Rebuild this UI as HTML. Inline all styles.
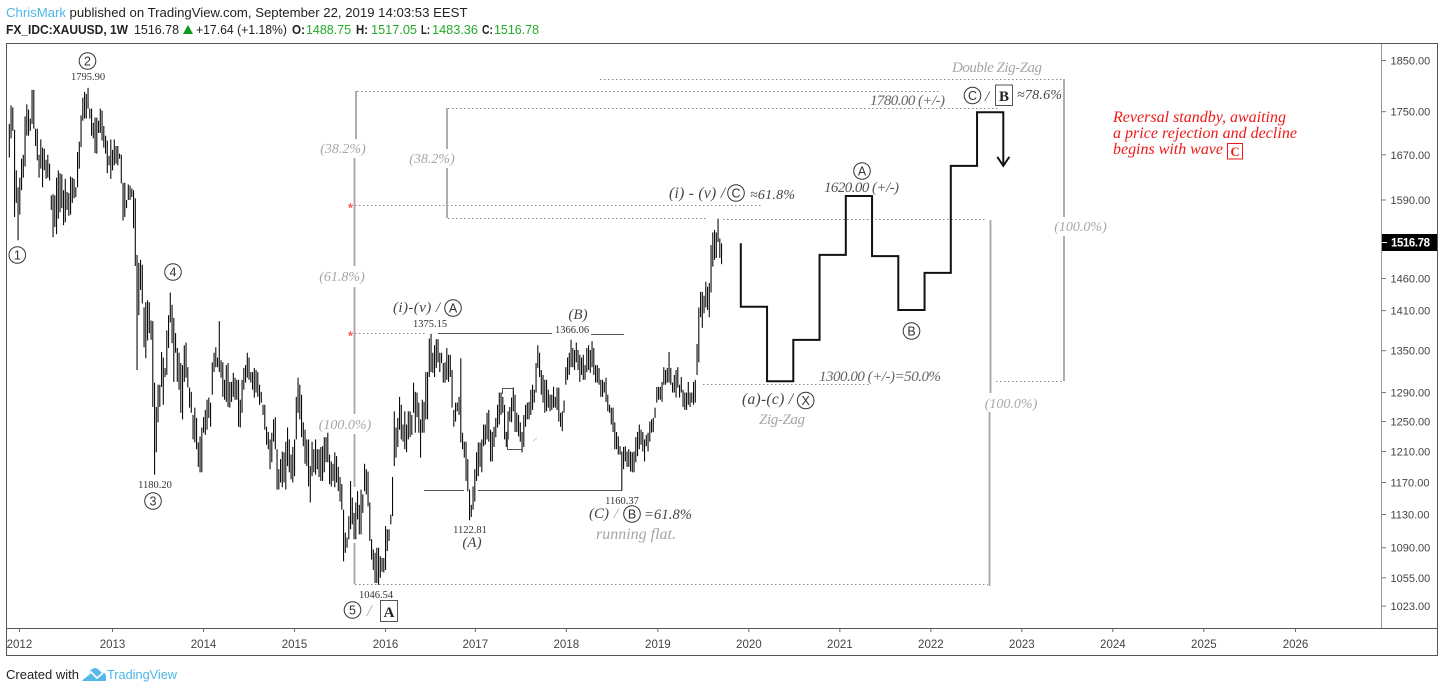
<!DOCTYPE html>
<html lang="en">
<head>
<meta charset="utf-8">
<title>XAUUSD weekly chart</title>
<style>
html,body{margin:0;padding:0;background:#fff;width:1444px;height:692px;overflow:hidden}
svg{display:block}
text{font-family:"Liberation Sans",sans-serif}
.s{font-family:"Liberation Serif",serif;font-style:italic}
.n{font-family:"Liberation Serif",serif;font-size:10.5px;fill:#333;text-anchor:middle}
.g{fill:#a6a6a6}
.d{fill:#444}
.dot{stroke:#888;stroke-width:1;stroke-dasharray:1.5 2.5;fill:none}
.gl{stroke:#a6a6a6;stroke-width:1.8;fill:none}
.c{fill:#fff;stroke:#333;stroke-width:1}
.ct{font-size:12.5px;fill:#333;text-anchor:middle}
.h{font-size:13px;fill:#222}
.b{font-weight:bold}
.gr{fill:#22ab29}
</style>
</head>
<body>
<svg id="chart" xmlns="http://www.w3.org/2000/svg" width="1444" height="692" viewBox="0 0 1444 692">
  <rect width="1444" height="692" fill="#fff"/>

  <g>
    <text class="h" x="6" y="17" style="fill:#4db6e8" textLength="60" lengthAdjust="spacingAndGlyphs">ChrisMark</text>
    <text class="h" x="69.500" y="17" textLength="398" lengthAdjust="spacingAndGlyphs">published on TradingView.com, September 22, 2019 14:03:53 EEST</text>
  </g>
  <g>
    <text class="h b" x="6" y="34" textLength="122" lengthAdjust="spacingAndGlyphs">FX_IDC:XAUUSD, 1W</text>
    <text class="h" x="134" y="34" textLength="45" lengthAdjust="spacingAndGlyphs">1516.78</text>
    <polygon points="183,34 193,34 188,25" fill="#0b9a1a"/>
    <text class="h" x="196" y="34" textLength="91" lengthAdjust="spacingAndGlyphs">+17.64 (+1.18%)</text>
    <text class="h b" x="292" y="34" textLength="13" lengthAdjust="spacingAndGlyphs">O:</text>
    <text class="h gr" x="306" y="34" textLength="45" lengthAdjust="spacingAndGlyphs">1488.75</text>
    <text class="h b" x="356" y="34" textLength="12" lengthAdjust="spacingAndGlyphs">H:</text>
    <text class="h gr" x="371" y="34" textLength="46" lengthAdjust="spacingAndGlyphs">1517.05</text>
    <text class="h b" x="421" y="34" textLength="9" lengthAdjust="spacingAndGlyphs">L:</text>
    <text class="h gr" x="432" y="34" textLength="46" lengthAdjust="spacingAndGlyphs">1483.36</text>
    <text class="h b" x="482" y="34" textLength="11" lengthAdjust="spacingAndGlyphs">C:</text>
    <text class="h gr" x="494" y="34" textLength="45" lengthAdjust="spacingAndGlyphs">1516.78</text>
  </g>

  <g>
    <line class="dot" x1="600" y1="79.500" x2="1062" y2="79.500"/>
    <line class="dot" x1="357" y1="91.500" x2="940" y2="91.500"/>
    <line class="dot" x1="448" y1="108.500" x2="1000" y2="108.500"/>
    <line class="dot" x1="355" y1="205.500" x2="762" y2="205.500"/>
    <line class="dot" x1="448" y1="218.500" x2="708" y2="218.500"/>
    <line class="dot" x1="723" y1="219.500" x2="985" y2="219.500"/>
    <line class="dot" x1="355" y1="333.500" x2="426" y2="333.500"/>
    <line class="dot" x1="703" y1="384.500" x2="870" y2="384.500"/>
    <line class="dot" x1="996" y1="381.500" x2="1063" y2="381.500"/>
    <line class="dot" x1="355" y1="584.500" x2="988" y2="584.500"/>

    <path class="gl" d="M356 91V139M354.500 158V266M354.500 287V414M354.500 434V487M354.500 543V584"/>
    <path class="gl" d="M447 108V149M447 168V218"/>
    <path class="gl" d="M1064 79V217M1064 236V381"/>
    <path class="gl" d="M990.500 220V393M989.500 412V586"/>
  </g>

  <g id="bars"></g>

  <g fill="none" stroke="#555">
    <line x1="438" y1="333.500" x2="552" y2="333.500"/>
    <line x1="591" y1="334.500" x2="624" y2="334.500"/>
    <line x1="424" y1="490.500" x2="464" y2="490.500"/>
    <line x1="478" y1="490.500" x2="622.500" y2="490.500"/>
    <path d="M502.500 394V388.500H513"/>
    <path d="M507.500 431V449.500H522"/>
    <line x1="533" y1="441" x2="537" y2="438" stroke="#ccc"/>
  </g>

  <path id="projection" fill="none" stroke="#111" stroke-width="2"/>
  <path id="projectionHead" fill="none" stroke="#111" stroke-width="2"/>

  <g>
    <g><circle class="c" cx="17.300" cy="255" r="8.300"/><text class="ct" x="17.300" y="259.500">1</text></g>
    <g><circle class="c" cx="87.500" cy="61" r="8.300"/><text class="ct" x="87.500" y="65.500">2</text></g>
    <text class="n" x="88" y="80">1795.90</text>
    <g><circle class="c" cx="173" cy="272" r="8.300"/><text class="ct" x="173" y="276.500">4</text></g>
    <text class="n" x="155" y="488">1180.20</text>
    <g><circle class="c" cx="153" cy="501" r="8.300"/><text class="ct" x="153" y="505.500">3</text></g>

    <g><circle class="c" cx="352.500" cy="610" r="8.300"/><text class="ct" x="352.500" y="614.500">5</text></g>
    <text class="s g" x="367" y="616" font-size="17">/</text>
    <rect x="380.500" y="600.500" width="17" height="21" fill="#fff" stroke="#555"/>
    <text x="389" y="617" text-anchor="middle" font-size="15" font-weight="bold" style="font-family:'Liberation Serif',serif" fill="#222">A</text>
    <text class="n" x="376" y="598">1046.54</text>

    <text class="s d" x="393" y="312" font-size="15" textLength="47">(i)-(v) /</text>
    <g><circle class="c" cx="453" cy="308" r="8.300"/><text class="ct" x="453" y="312.500">A</text></g>
    <text class="n" x="430" y="327">1375.15</text>
    <text class="s d" x="578" y="319" text-anchor="middle" font-size="15">(B)</text>
    <text class="n" x="572" y="333">1366.06</text>
    <text class="n" x="470" y="533">1122.81</text>
    <text class="s d" x="472" y="547" text-anchor="middle" font-size="15">(A)</text>
    <text class="n" x="622" y="504">1160.37</text>
    <text class="s d" x="589" y="518" font-size="15">(C)</text>
    <text class="s g" x="614" y="518" font-size="15">/</text>
    <g><circle class="c" cx="632" cy="514" r="8.300"/><text class="ct" x="632" y="518.500">B</text></g>
    <text class="s d" x="644" y="519" font-size="14.500" textLength="48">=61.8%</text>
    <text class="s g" x="596" y="539" font-size="16" textLength="80">running flat.</text>

    <text class="s d" x="669" y="198" font-size="15.500" textLength="56">(i) - (v) /</text>
    <g><circle class="c" cx="736" cy="193" r="8.300"/><text class="ct" x="736" y="197.500">C</text></g>
    <text class="s d" x="750" y="199" font-size="14" textLength="45">≈61.8%</text>

    <text class="s d" x="742" y="404" font-size="15.500" textLength="51">(a)-(c) /</text>
    <g><circle class="c" cx="805.700" cy="400.500" r="8.300"/><text class="ct" x="805.700" y="405">X</text></g>
    <text class="s g" x="759" y="424" font-size="15" textLength="46">Zig-Zag</text>
    <text class="s" fill="#666" x="819" y="381" font-size="15" textLength="122">1300.00 (+/-)=50.0%</text>
    <g><circle class="c" cx="862" cy="171" r="8.300"/><text class="ct" x="862" y="175.500">A</text></g>
    <text class="s" fill="#555" x="824" y="192" font-size="15" textLength="75">1620.00 (+/-)</text>
    <g><circle class="c" cx="911.500" cy="331" r="8.300"/><text class="ct" x="911.500" y="335.500">B</text></g>
    <text class="s" fill="#666" x="870" y="105" font-size="15" textLength="75">1780.00 (+/-)</text>
    <g><circle class="c" cx="972.500" cy="95.500" r="8.300"/><text class="ct" x="972.500" y="100">C</text></g>
    <text class="s d" x="985" y="101" font-size="15">/</text>
    <rect x="995.500" y="85" width="17" height="20.500" fill="#fff" stroke="#555"/>
    <text x="1004" y="101" text-anchor="middle" font-size="15" font-weight="bold" style="font-family:'Liberation Serif',serif" fill="#222">B</text>
    <text class="s d" x="1017" y="99" font-size="14" textLength="45">≈78.6%</text>
    <text class="s g" x="952" y="72" font-size="15" textLength="90">Double Zig-Zag</text>

    <text class="s g" x="343" y="153" text-anchor="middle" font-size="14">(38.2%)</text>
    <text class="s g" x="432" y="163" text-anchor="middle" font-size="14">(38.2%)</text>
    <text class="s g" x="342" y="281" text-anchor="middle" font-size="14">(61.8%)</text>
    <text class="s g" x="345" y="429" text-anchor="middle" font-size="14">(100.0%)</text>
    <text class="s g" x="1080.500" y="231" text-anchor="middle" font-size="14">(100.0%)</text>
    <text class="s g" x="1011" y="408" text-anchor="middle" font-size="14">(100.0%)</text>

    <text x="350.500" y="213" text-anchor="middle" font-size="15" fill="#ff3b3b">*</text>
    <text x="350.500" y="341" text-anchor="middle" font-size="15" fill="#ff3b3b">*</text>

    <text class="s" fill="#f01818" x="1113" y="122" font-size="16" textLength="173">Reversal standby, awaiting</text>
    <text class="s" fill="#f01818" x="1113" y="138" font-size="16" textLength="184">a price rejection and decline</text>
    <text class="s" fill="#f01818" x="1113" y="154" font-size="16" textLength="110">begins with wave</text>
    <rect x="1227.500" y="143.500" width="15" height="15.500" fill="#fff" stroke="#f01818"/>
    <text x="1235" y="156" text-anchor="middle" font-size="12.500" font-weight="bold" style="font-family:'Liberation Serif',serif" fill="#f01818">C</text>
  </g>

  <g id="yAxis">
    <line x1="1381.500" y1="43" x2="1381.500" y2="628" stroke="#999"/>
  </g>
  <g id="xAxis">
    <line x1="7" y1="628.500" x2="1437" y2="628.500" stroke="#555"/>
  </g>
  <rect x="6.500" y="43.500" width="1431" height="612" fill="none" stroke="#555"/>
  <g>
    <rect x="1382" y="234" width="55" height="17" fill="#000"/>
    <line x1="1382" y1="242.500" x2="1387" y2="242.500" stroke="#fff"/>
    <text x="1391" y="246.500" font-size="11.500" font-weight="bold" fill="#fff" textLength="39">1516.78</text>
  </g>

  <g>
    <text x="6" y="679" font-size="13" fill="#222" textLength="73" lengthAdjust="spacingAndGlyphs">Created with</text>
    <g>
      <path d="M82 681L91 670Q95 666 99 670L102 673Q105 672 106 676V681Z" fill="#57b9e8"/>
      <path d="M84 678L91 672L97 678L103 673" fill="none" stroke="#fff" stroke-width="1.600"/>
    </g>
    <text x="107" y="679" font-size="13" fill="#4db6e8" textLength="70" lengthAdjust="spacingAndGlyphs">TradingView</text>
  </g>
</svg>

<script>
const highs = [
1727,1762,1758,1716,1642,1612,1629,1663,1670,1741,
1764,1754,1737,1792,1792,1718,1718,1670,1698,1683,
1681,1661,1670,1654,1598,1600,1598,1629,1642,1637,
1635,1607,1627,1604,1602,1631,1629,1627,1612,1675,
1694,1743,1777,1788,1784,1796,1756,1756,1729,1739,
1739,1733,1756,1752,1723,1705,1696,1668,1698,1679,
1698,1686,1686,1672,1670,1620,1620,1590,1617,1615,
1610,1607,1593,1498,1485,1490,1482,1415,1423,1426,
1423,1395,1394,1304,1270,1301,1301,1348,1340,1325,
1380,1403,1438,1419,1399,1376,1354,1347,1332,1329,
1358,1362,1326,1297,1291,1259,1269,1255,1222,1230,
1242,1256,1266,1280,1283,1276,1333,1347,1355,1340,
1394,1336,1333,1308,1329,1332,1305,1305,1318,1311,
1308,1308,1280,1308,1325,1329,1347,1340,1319,1319,
1325,1322,1319,1301,1291,1273,1273,1243,1236,1226,
1235,1253,1256,1213,1187,1200,1210,1209,1223,1242,
1226,1206,1216,1226,1284,1311,1301,1287,1249,1239,
1226,1226,1191,1223,1213,1226,1213,1213,1216,1217,
1229,1229,1235,1206,1197,1194,1209,1204,1190,1177,
1168,1136,1108,1102,1128,1172,1151,1132,1145,1159,
1142,1161,1155,1194,1187,1184,1145,1100,1088,1084,
1090,1090,1080,1078,1078,1116,1112,1112,1130,1177,
1264,1242,1255,1284,1273,1246,1264,1246,1264,1264,
1259,1304,1291,1290,1276,1253,1280,1277,1319,1319,
1368,1375,1347,1358,1367,1367,1347,1347,1332,1333,
1354,1344,1344,1322,1266,1276,1276,1284,1339,1235,
1223,1223,1200,1161,1142,1165,1187,1209,1222,1222,
1226,1246,1246,1262,1266,1239,1236,1243,1255,1273,
1290,1290,1284,1273,1236,1264,1270,1283,1297,1287,
1262,1259,1249,1236,1259,1273,1276,1277,1294,1301,
1294,1332,1358,1347,1322,1315,1308,1308,1294,1287,
1287,1298,1284,1297,1297,1262,1264,1279,1326,1340,
1347,1366,1354,1351,1362,1351,1344,1340,1344,1329,
1354,1358,1351,1364,1354,1329,1329,1325,1308,1308,
1305,1311,1287,1273,1269,1269,1249,1236,1230,1217,
1210,1216,1217,1210,1213,1210,1209,1210,1229,1236,
1246,1239,1236,1226,1232,1235,1250,1253,1255,1269,
1298,1298,1298,1305,1326,1322,1325,1348,1325,1304,
1315,1322,1326,1301,1312,1294,1290,1290,1305,1290,
1290,1305,1308,1360,1415,1439,1439,1433,1455,1447,
1453,1514,1535,1539,1535,1558,1525,1517];
const lows = [
1665,1700,1714,1561,1585,1522,1565,1607,1629,1649,
1705,1705,1714,1727,1718,1686,1660,1629,1645,1612,
1642,1627,1629,1624,1573,1527,1544,1532,1558,1569,
1576,1547,1552,1573,1563,1565,1585,1593,1595,1612,
1645,1684,1733,1737,1737,1756,1737,1705,1700,1673,
1672,1710,1710,1696,1683,1672,1637,1651,1627,1642,
1651,1654,1651,1663,1619,1555,1561,1576,1590,1590,
1595,1542,1480,1322,1403,1442,1421,1355,1339,1365,
1376,1366,1270,1180,1209,1249,1270,1298,1273,1312,
1315,1354,1392,1361,1305,1347,1305,1294,1262,1253,
1305,1311,1297,1269,1262,1226,1222,1213,1190,1183,
1183,1235,1232,1239,1255,1243,1287,1319,1326,1326,
1319,1311,1284,1280,1277,1270,1269,1277,1284,1280,
1280,1243,1242,1262,1294,1304,1311,1308,1304,1294,
1283,1290,1284,1273,1276,1259,1239,1219,1213,1187,
1196,1223,1213,1161,1161,1170,1164,1170,1161,1191,
1183,1174,1170,1178,1226,1262,1253,1229,1217,1194,
1191,1165,1145,1178,1183,1180,1187,1177,1172,1172,
1183,1196,1196,1168,1165,1172,1164,1170,1159,1146,
1136,1074,1084,1090,1100,1112,1118,1100,1100,1124,
1106,1106,1132,1159,1155,1140,1098,1076,1064,1049,
1049,1047,1055,1062,1061,1064,1086,1098,1118,1128,
1191,1202,1216,1239,1226,1223,1213,1209,1226,1229,
1232,1262,1235,1256,1235,1202,1235,1235,1253,1253,
1312,1319,1318,1312,1325,1333,1319,1332,1304,1304,
1308,1305,1312,1269,1243,1250,1264,1259,1222,1213,
1202,1172,1159,1123,1127,1136,1146,1172,1178,1190,
1183,1217,1219,1226,1223,1197,1197,1216,1229,1242,
1246,1259,1262,1226,1216,1226,1250,1249,1264,1236,
1236,1230,1223,1209,1216,1243,1253,1253,1259,1266,
1276,1290,1325,1312,1287,1276,1262,1264,1269,1264,
1266,1269,1269,1266,1250,1243,1237,1262,1301,1308,
1315,1326,1326,1322,1333,1322,1305,1315,1308,1308,
1319,1322,1318,1326,1315,1304,1304,1301,1284,1284,
1290,1277,1264,1262,1246,1236,1213,1213,1206,1206,
1160,1187,1197,1190,1190,1184,1183,1183,1196,1204,
1213,1219,1210,1197,1217,1210,1223,1235,1236,1255,
1276,1280,1280,1277,1301,1301,1304,1304,1301,1290,
1290,1283,1297,1283,1290,1270,1266,1266,1273,1270,
1276,1273,1276,1315,1333,1400,1384,1406,1415,1411,
1400,1438,1479,1490,1493,1519,1493,1483];

const priceTicks = [1850,1750,1670,1590,1460,1410,1350,1290,1250,1210,1170,1130,1090,1055,1023];
const yearLabels = ["2012","2013","2014","2015","2016","2017","2018","2019","2020","2021","2022","2023","2024","2025","2026"];
const yearWeeks = [5.8,59,111,163,215,266.3,318.3,370.6,422.6,474.6,526.6,578.6,630.6,682.6,735];

const projectionWeeks = [418,433,448,463,478,493,508,523,538,553,568];
const projectionStart = 1517;
const projectionPrices = [1416,1306,1366,1498,1597,1496,1411,1469,1650,1749];
const projectionEnd = 1650;

const SVGNS = "http://www.w3.org/2000/svg";
function xScale(week){ return 9.3 + 1.75 * week; }
function yScale(price){ return 60.5 + 921 * Math.log(1850 / price); }

const barsGroup = document.getElementById("bars");
highs.forEach(function(h, i){
  const bar = document.createElementNS(SVGNS, "line");
  
  
  bar.setAttribute("x1", xScale(i));
  bar.setAttribute("x2", xScale(i));
  bar.setAttribute("y1", yScale(h));
  bar.setAttribute("y2", yScale(lows[i]));
  bar.setAttribute("stroke", "#0c0c0c");
  bar.setAttribute("stroke-width", "1.1");
  barsGroup.appendChild(bar);
});

const yAxis = document.getElementById("yAxis");
priceTicks.forEach(function(p){
  const y = yScale(p);
  const tick = document.createElementNS(SVGNS, "line");
  
  
  tick.setAttribute("x1", 1381.5);
  tick.setAttribute("x2", 1386);
  tick.setAttribute("y1", y);
  tick.setAttribute("y2", y);
  tick.setAttribute("stroke", "#777");
  yAxis.appendChild(tick);
  const label = document.createElementNS(SVGNS, "text");
  
  
  label.setAttribute("x", 1390.5);
  label.setAttribute("y", y + 4);
  label.setAttribute("font-size", "11");
  label.setAttribute("fill", "#444");
  label.textContent = p.toFixed(2);
  yAxis.appendChild(label);
});

const xAxis = document.getElementById("xAxis");
yearLabels.forEach(function(yr, i){
  const x = xScale(yearWeeks[i]);
  const tick = document.createElementNS(SVGNS, "line");
  
  
  tick.setAttribute("x1", x);
  tick.setAttribute("x2", x);
  tick.setAttribute("y1", 628.5);
  tick.setAttribute("y2", 632);
  tick.setAttribute("stroke", "#666");
  xAxis.appendChild(tick);
  const label = document.createElementNS(SVGNS, "text");
  
  
  label.setAttribute("x", x);
  label.setAttribute("y", 648);
  label.setAttribute("font-size", "11.5");
  label.setAttribute("fill", "#444");
  label.setAttribute("text-anchor", "middle");
  label.textContent = yr;
  xAxis.appendChild(label);
});

let d = "M" + xScale(projectionWeeks[0]) + " " + yScale(projectionStart);
projectionPrices.forEach(function(p, i){
  d += "L" + xScale(projectionWeeks[i]) + " " + yScale(p);
  d += "L" + xScale(projectionWeeks[i + 1]) + " " + yScale(p);
});
const lastX = xScale(projectionWeeks[projectionWeeks.length - 1]);
const endY = yScale(projectionEnd);
d += "L" + lastX + " " + endY;
document.getElementById("projection").setAttribute("d", d);
document.getElementById("projectionHead").setAttribute("d",
  "M" + (lastX - 6) + " " + (endY - 9) + "L" + lastX + " " + endY + "L" + (lastX + 6) + " " + (endY - 9));
</script>
</body>
</html>
